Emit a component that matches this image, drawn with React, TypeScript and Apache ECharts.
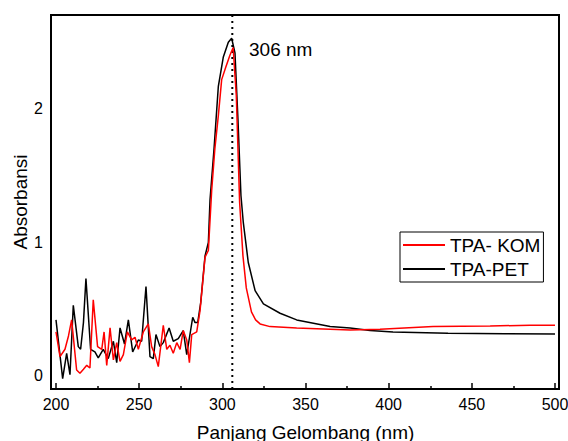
import React, { useEffect, useRef } from "react";
import * as echarts from "echarts";

const komWavelength = [
  200, 202.4, 205.4, 207.5, 209.4, 212.4, 214.4, 216.5, 218.5, 219.4, 220.4, 222.4, 225, 227.5, 228.9,
  230.5, 232.5, 234.5, 236.5, 238.5, 240.5, 242.9, 245.5, 247.5, 249.5, 252.5, 255.5, 257.5, 259.5,
  261.5, 264.5, 266.6, 268.5, 270.5, 272.6, 274.6, 276.5, 278.6, 280.2, 281.6, 284.6, 286.6, 289.6,
  291.6, 293.6, 295.5, 297.6, 299.6, 302, 304.5, 306.5, 308.4, 310.4, 312.4, 314.4, 317.5, 320,
  322.7, 328.7, 344.7, 376.8, 394.8, 426.7, 461, 485, 500,
];
const komAbsorbance = [
  0.33, 0.145, 0.2, 0.3, 0.42, 0.045, 0.02, 0.05, 0.08, 0.07, 0.06, 0.57, 0.22, 0.2, 0.33,
  0.08, 0.36, 0.12, 0.25, 0.11, 0.16, 0.33, 0.27, 0.29, 0.2, 0.33, 0.39, 0.22, 0.16,
  0.07, 0.38, 0.2, 0.23, 0.17, 0.25, 0.2, 0.34, 0.27, 0.1, 0.31, 0.33, 0.49, 0.89,
  0.94, 1.39, 1.7, 1.95, 2.22, 2.31, 2.4, 2.46, 2.1, 1.3, 0.9, 0.66, 0.48, 0.42,
  0.39, 0.37, 0.36, 0.345, 0.35, 0.37, 0.375, 0.38, 0.38,
];

const petWavelength = [
  200, 202, 204, 206.4, 208.4, 210.4, 213.4, 214.8, 216.5, 218, 220.8, 223.4, 225.4, 228.4, 231.4,
  234.5, 236.5, 238.5, 241.2, 243.5, 246.1, 249.5, 251.5, 254.1, 256.5, 258.5, 260.1, 262.5, 264.5,
  268, 270.5, 273.5, 276.5, 278.6, 282.2, 283.6, 285.2, 287, 289.6, 291.6, 292.6, 295, 297.6, 300.6,
  303.6, 305.6, 307.6, 309.4, 311.2, 312.6, 315.6, 319.7, 324.7, 334.7, 344.7, 364.8, 376.8, 388.8,
  402.6, 435.7, 470, 500,
];
const petAbsorbance = [
  0.42, 0.2, -0.02, 0.17, 0.01, 0.53, 0.22, 0.2, 0.4, 0.73, 0.2, 0.18, 0.135, 0.2, 0.13,
  0.26, 0.1, 0.36, 0.24, 0.42, 0.18, 0.27, 0.26, 0.67, 0.145, 0.13, 0.31, 0.22, 0.25,
  0.36, 0.26, 0.28, 0.34, 0.16, 0.44, 0.4, 0.4, 0.55, 0.9, 1.0, 1.32, 1.7, 2.17, 2.39,
  2.5, 2.53, 2.42, 1.92, 1.35, 1.15, 0.85, 0.64, 0.54, 0.47, 0.42, 0.37, 0.36, 0.34,
  0.33, 0.32, 0.317, 0.315,
];

const peakWavelength = 306;
const xTicks = [200, 250, 300, 350, 400, 450, 500];
const yTicks = [0, 1, 2];
const yMin = -0.0974;
const yMax = 2.704;

const FONT = '"Liberation Sans", Arial, sans-serif';

export default function App() {
  const ref = useRef<HTMLDivElement>(null);
  useEffect(() => {
    if (!ref.current) return;
    document.body.style.margin = "0";
    document.body.style.overflow = "hidden";
    const chart = echarts.init(ref.current, null, { renderer: "svg" });
    const zip = (xs: number[], ys: number[]) => xs.map((x, i) => [x, ys[i]]);
    chart.setOption({
      animation: false,
      backgroundColor: "#fff",
      textStyle: { fontFamily: FONT },
      grid: { left: 56, right: 13, top: 15, bottom: 52, containLabel: false, outerBoundsMode: "none" },
      xAxis: {
        type: "value",
        min: xTicks[0],
        max: xTicks[xTicks.length - 1],
        interval: 50,
        axisLine: { show: false, onZero: false },
        axisTick: { show: true, inside: true, length: 6, lineStyle: { color: "#000", width: 1.5 } },
        minorTick: { show: true, splitNumber: 2, length: 3, lineStyle: { color: "#000", width: 1.5 } },
        splitLine: { show: false },
        minorSplitLine: { show: false },
        axisLabel: { fontSize: 16, color: "#000", margin: 7, fontFamily: FONT },
        name: "Panjang Gelombang (nm)",
        nameLocation: "middle",
        nameGap: 34,
        nameTextStyle: { fontSize: 19, color: "#000", fontFamily: FONT },
      },
      yAxis: {
        type: "value",
        min: yMin,
        max: yMax,
        axisLine: { show: false, onZero: false },
        axisTick: { show: false },
        splitLine: { show: false },
        axisLabel: { customValues: yTicks, fontSize: 16, color: "#000", margin: 13, fontFamily: FONT },
        name: "Absorbansi",
        nameLocation: "middle",
        nameGap: 26,
        nameMoveOverlap: false,
        nameTextStyle: { fontSize: 19, color: "#000", fontFamily: FONT },
      },
      legend: {
        data: ["TPA- KOM", "TPA-PET"],
        orient: "vertical",
        left: 400,
        top: 232,
        padding: [3, 3, 3, 3],
        itemGap: 4,
        itemWidth: 42,
        itemHeight: 2,
        icon: "rect",
        borderColor: "#000",
        borderWidth: 1,
        borderRadius: 0,
        backgroundColor: "#fff",
        textStyle: { fontSize: 19, color: "#000", fontFamily: FONT, lineHeight: 20 },
      },
      series: [
        {
          name: "peak",
          type: "line",
          data: [
            [peakWavelength, yMin],
            [peakWavelength, yMax],
          ],
          symbol: "none",
          silent: true,
          clip: false,
          lineStyle: { color: "#000", width: 2, type: [2, 4] },
          z: 1,
        },
        {
          name: "TPA-PET",
          type: "line",
          data: zip(petWavelength, petAbsorbance),
          symbol: "none",
          clip: false,
          color: "#000",
          lineStyle: { color: "#000", width: 1.5 },
          z: 2,
        },
        {
          name: "TPA- KOM",
          type: "line",
          data: zip(komWavelength, komAbsorbance),
          symbol: "none",
          clip: false,
          color: "#ff0000",
          lineStyle: { color: "#ff0000", width: 1.5 },
          z: 3,
        },
      ],
      graphic: [
        {
          type: "rect",
          shape: { x: 51, y: 15, width: 508, height: 374 },
          style: { fill: "none", stroke: "#000", lineWidth: 2 },
          silent: true,
          z: 10,
        },
        {
          type: "text",
          x: 249,
          y: 49,
          style: {
            text: "306 nm",
            fontSize: 19,
            fontFamily: FONT,
            fill: "#000",
            verticalAlign: "middle",
          },
          z: 10,
        },
      ],
    });
    return () => chart.dispose();
  }, []);
  return (
    <div
      ref={ref}
      style={{ position: "fixed", left: 0, top: 0, width: 568, height: 441, overflow: "hidden" }}
    />
  );
}
